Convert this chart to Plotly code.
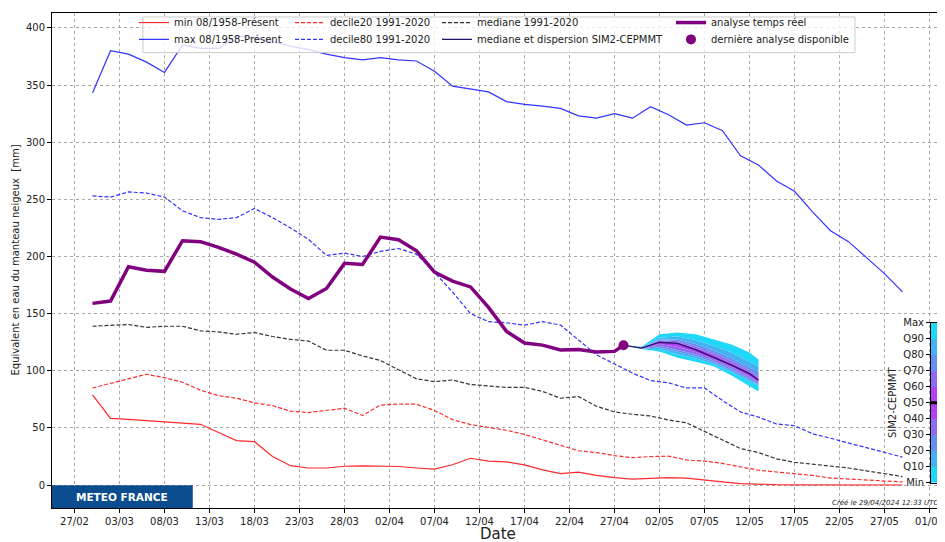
import pandas as pd
import plotly.graph_objects as go

FONT = "DejaVu Sans"

# Climatology on a 2-day grid, 29/02 -> 29/05 2024
GRID_DATES = pd.date_range("2024-02-29", "2024-05-29", freq="2D")

MAX_VALS = [
    343, 380, 377, 370, 361, 385, 382, 382, 393, 391,
    388, 384, 381, 377, 374, 372, 374, 372, 371, 362,
    349, 346.5, 344, 335.5, 333, 331.5, 329.5, 323, 321, 325,
    321, 331, 324, 315, 317, 310, 288, 280, 266, 257,
    239, 222.5, 213, 199, 185, 169,
]
DEC80_VALS = [
    253, 252, 256.5, 255.5, 252, 240, 234, 232.5, 234, 242,
    234, 225, 215, 201, 203, 200, 204.5, 207, 202, 186,
    169, 150, 143, 142, 140, 143, 140, 127, 114, 106,
    98, 91.5, 89.5, 85, 85, 74, 64, 59.5, 53.5, 52,
    45, 41, 37, 33, 29, 24.5,
]
MEDIAN_VALS = [
    139, 139.5, 140.5, 138, 139, 139, 135, 134, 132, 133.5,
    130, 127.5, 126, 118, 118, 113, 109, 101, 93, 90.5,
    92, 88, 87, 85.5, 85.5, 82, 76, 77.5, 69, 64,
    62, 60.5, 57, 54.5, 47, 39.5, 32, 28.5, 23, 20,
    18.5, 16.5, 15, 12.5, 10, 7.5,
]
DEC20_VALS = [
    85, 89, 92.5, 97, 94, 90, 83, 78.3, 76, 72,
    69.5, 64.7, 63.5, 65.5, 67.3, 61, 70, 71, 70.8, 65.3,
    57.3, 53, 50.5, 48, 44.3, 39.5, 34.8, 30.1, 28.5, 25.8,
    24, 25, 25.3, 22, 21, 19, 16, 13, 11.5, 10.3,
    8.5, 6.2, 5.3, 4.2, 3.3, 2.8,
]
MIN_VALS = [
    79, 58.4, 57.5, 56.5, 55.2, 54.2, 53.2, 46, 39, 38,
    25, 17, 15, 15, 16.5, 16.8, 16.8, 16.3, 15, 14,
    17.8, 23.5, 21, 20.4, 17.7, 13.4, 10, 11.4, 8.5, 6.5,
    5.3, 5.8, 6.5, 6.2, 4.2, 2.8, 1.3, 0.7, 0.4, 0.3,
    0.3, 0.2, 0.2, 0.1, 0.1, 0.1,
]

# Real-time analysis: grid dates up to 27/04, then the last analysis on 28/04
ANALYSIS_DATES = list(GRID_DATES[:30]) + [pd.Timestamp("2024-04-28")]
ANALYSIS_VALS = [
    159, 161, 191, 188, 187, 213.8, 213, 208, 202, 195,
    182, 171.5, 163.3, 172, 194, 193, 217, 214.7, 205, 186.4,
    178.5, 173.4, 155.5, 134.5, 124.3, 122.5, 118.3, 118.7, 116.4, 117,
    122.4,
]
LAST_DATE = ["2024-04-28"]
LAST_VAL = [122.4]

# SIM2-CEPMMT forecast quantiles
FC_DATES = ["2024-04-28", "2024-04-30", "2024-05-02", "2024-05-04", "2024-05-06",
            "2024-05-08", "2024-05-10", "2024-05-12", "2024-05-13"]
FC_MIN = [122.4, 119.0, 117.0, 111.5, 108.0, 104.0, 96.0, 87.0, 82.0]
FC_Q10 = [122.4, 119.2, 119.0, 114.5, 111.0, 106.0, 99.0, 91.0, 87.0]
FC_Q20 = [122.4, 119.4, 120.5, 116.5, 113.0, 107.5, 100.5, 92.5, 88.0]
FC_Q30 = [122.4, 119.5, 122.0, 118.5, 114.5, 109.0, 102.0, 94.0, 89.0]
FC_Q40 = [122.4, 119.7, 123.5, 121.0, 116.5, 110.5, 103.5, 95.5, 90.5]
FC_Q50 = [122.4, 119.8, 125.0, 124.0, 118.5, 112.0, 105.0, 97.5, 92.0]
FC_Q60 = [122.4, 119.9, 125.8, 125.0, 120.0, 114.0, 106.5, 99.0, 93.5]
FC_Q70 = [122.4, 120.1, 126.5, 126.0, 121.5, 115.5, 108.5, 100.5, 95.0]
FC_Q80 = [122.4, 120.3, 127.5, 127.5, 123.5, 118.0, 111.0, 103.0, 99.0]
FC_Q90 = [122.4, 120.5, 129.0, 130.0, 127.0, 122.0, 116.0, 108.0, 104.0]
FC_MAX = [122.4, 121.0, 132.0, 133.5, 132.0, 127.5, 123.0, 116.0, 110.0]

BAND_LABELS = ["Min", "Q10", "Q20", "Q30", "Q40", "Q50", "Q60", "Q70", "Q80", "Q90", "Max"]
BAND_COLORS = ["#1fd8f7", "#42b2f3", "#678ff1", "#8d6cf0", "#b242ef",
               "#b242ef", "#8d6cf0", "#678ff1", "#42b2f3", "#1fd8f7"]

GRID = "#a8a8a8"
TEXT = "#222222"

# matplotlib-style 4x2 legend: one single-entry plotly legend per cell
LEGEND_COLS = [0.092, 0.2671, 0.4321, 0.6947]
LEGEND_ROWS = [1.01, 0.976]


def legend_id(col, row):
    n = col * 2 + row + 1
    return "legend" if n == 1 else f"legend{n}"


fig = go.Figure()


def clim_line(values, name, color, dash, col, row):
    fig.add_trace(go.Scatter(
        x=GRID_DATES, y=values, mode="lines", name=name,
        line={"color": color, "width": 1.2, "dash": dash},
        legend=legend_id(col, row),
    ))


clim_line(MIN_VALS, "min 08/1958-Présent", "#ff2a2a", "solid", 0, 0)
clim_line(MAX_VALS, "max 08/1958-Présent", "#3333ff", "solid", 0, 1)
clim_line(DEC20_VALS, "decile20 1991-2020", "#ff2a2a", "4px,2px", 1, 0)
clim_line(DEC80_VALS, "decile80 1991-2020", "#3333ff", "4px,2px", 1, 1)
clim_line(MEDIAN_VALS, "mediane 1991-2020", "#333333", "4px,2px", 2, 0)

# quantile bands, each filled to the previous trace
quantiles = [FC_MIN, FC_Q10, FC_Q20, FC_Q30, FC_Q40, FC_Q50,
             FC_Q60, FC_Q70, FC_Q80, FC_Q90, FC_MAX]
for i, q in enumerate(quantiles):
    fig.add_trace(go.Scatter(
        x=FC_DATES, y=q, mode="lines", line={"width": 0},
        fill="tonexty" if i > 0 else None,
        fillcolor=BAND_COLORS[i - 1] if i > 0 else None,
        showlegend=False, hoverinfo="skip",
    ))

fig.add_trace(go.Scatter(
    x=FC_DATES, y=FC_Q50, mode="lines", name="mediane et dispersion SIM2-CEPMMT",
    line={"color": "#24126e", "width": 1.3}, legend=legend_id(2, 1),
))
fig.add_trace(go.Scatter(
    x=ANALYSIS_DATES, y=ANALYSIS_VALS, mode="lines", name="analyse temps réel",
    line={"color": "#800080", "width": 3.5}, legend=legend_id(3, 0),
))
fig.add_trace(go.Scatter(
    x=LAST_DATE, y=LAST_VAL, mode="markers", name="dernière analyse disponible",
    marker={"color": "#800080", "size": 10}, legend=legend_id(3, 1),
))

# discrete colour bar for the forecast quantiles
fig.add_trace(go.Heatmap(
    z=[[i] for i in range(10)], x=[0], y=list(range(10)),
    colorscale=[[i / 9, c] for i, c in enumerate(BAND_COLORS)],
    zmin=0, zmax=9, showscale=False, hoverinfo="skip",
    xaxis="x2", yaxis="y2",
))

legends = {}
for col, lx in enumerate(LEGEND_COLS):
    for row, ly in enumerate(LEGEND_ROWS):
        legends[legend_id(col, row)] = {
            "bgcolor": "rgba(0,0,0,0)", "borderwidth": 0,
            "font": {"family": FONT, "size": 10, "color": TEXT},
            "x": lx, "y": ly, "xanchor": "left", "yanchor": "top",
        }

# the page body adds an 8px margin top/left, so the figure is 8px smaller
fig.update_layout(
    width=937, height=534,
    margin={"l": 44, "r": 2, "t": 0, "b": 34},
    paper_bgcolor="white", plot_bgcolor="white",
    font={"family": FONT, "size": 10, "color": TEXT},
    xaxis={
        "range": ["2024-02-24 12:00", "2024-06-02 12:00"],
        "tick0": "2024-02-27", "dtick": 5 * 86400000, "tickformat": "%d/%m",
        "showgrid": True, "gridcolor": GRID, "griddash": "3px,3px", "gridwidth": 0.8,
        "showline": True, "mirror": True, "linecolor": "black", "linewidth": 1,
        "ticks": "outside", "ticklen": 4, "tickcolor": "black",
        "zeroline": False,
    },
    yaxis={
        "range": [-20, 413], "tick0": 0, "dtick": 50,
        "showgrid": True, "gridcolor": GRID, "griddash": "3px,3px", "gridwidth": 0.8,
        "showline": True, "mirror": True, "linecolor": "black", "linewidth": 1,
        "ticks": "outside", "ticklen": 4, "tickcolor": "black",
        "zeroline": False,
    },
    xaxis2={
        "domain": [0.9865, 1.0], "anchor": "y2", "range": [-0.5, 0.5],
        "showticklabels": False, "ticks": "", "showgrid": False, "zeroline": False,
        "showline": True, "mirror": True, "linecolor": "black", "linewidth": 1,
    },
    yaxis2={
        "domain": [0.0506, 0.3746], "anchor": "x2", "side": "left",
        "range": [-0.5, 9.5], "tickvals": [i - 0.5 for i in range(11)],
        "ticktext": BAND_LABELS, "ticks": "outside", "ticklen": 4, "tickcolor": "black",
        "showgrid": False, "zeroline": False,
        "showline": True, "mirror": True, "linecolor": "black", "linewidth": 1,
        "title": {"text": "SIM2-CEPMMT", "font": {"size": 10}, "standoff": 4},
    },
    shapes=[
        # legend frame
        {"type": "rect", "xref": "paper", "yref": "paper",
         "x0": 0.1021, "x1": 0.9012, "y0": 0.92, "y1": 0.992,
         "fillcolor": "rgba(255,255,255,0.8)", "line": {"color": "#cccccc", "width": 1},
         "layer": "above"},
        # Meteo France banner
        {"type": "rect", "xref": "paper", "yref": "paper",
         "x0": 0.0, "x1": 0.158, "y0": 0.0, "y1": 0.046,
         "fillcolor": "#0b4c8e", "line": {"width": 0}, "layer": "above"},
        # Q50 marker on the colour bar
        {"type": "line", "xref": "x2", "yref": "y2",
         "x0": -0.5, "x1": 0.5, "y0": 4.5, "y1": 4.5,
         "line": {"color": "black", "width": 3}},
    ],
    annotations=[
        {"text": "Equivalent en eau du manteau neigeux  [mm]", "textangle": -90,
         "xref": "paper", "yref": "paper", "x": -0.0415, "y": 0.5,
         "xanchor": "center", "yanchor": "middle", "showarrow": False,
         "font": {"size": 10}},
        {"text": "Date", "xref": "paper", "yref": "paper", "x": 0.5, "y": -0.052,
         "xanchor": "center", "yanchor": "middle", "showarrow": False,
         "font": {"size": 15}},
        {"text": "<b>METEO FRANCE</b>", "xref": "paper", "yref": "paper",
         "x": 0.079, "y": 0.023, "xanchor": "center", "yanchor": "middle",
         "showarrow": False, "font": {"size": 10.5, "color": "white"}},
        {"text": "Créé le 29/04/2024 12:33 UTC", "xref": "paper", "yref": "paper",
         "x": 0.9966, "y": 0.01, "xanchor": "right", "yanchor": "middle",
         "showarrow": False, "font": {"size": 7, "style": "italic"}},
    ],
    **legends,
)

fig.write_html("out.html")
